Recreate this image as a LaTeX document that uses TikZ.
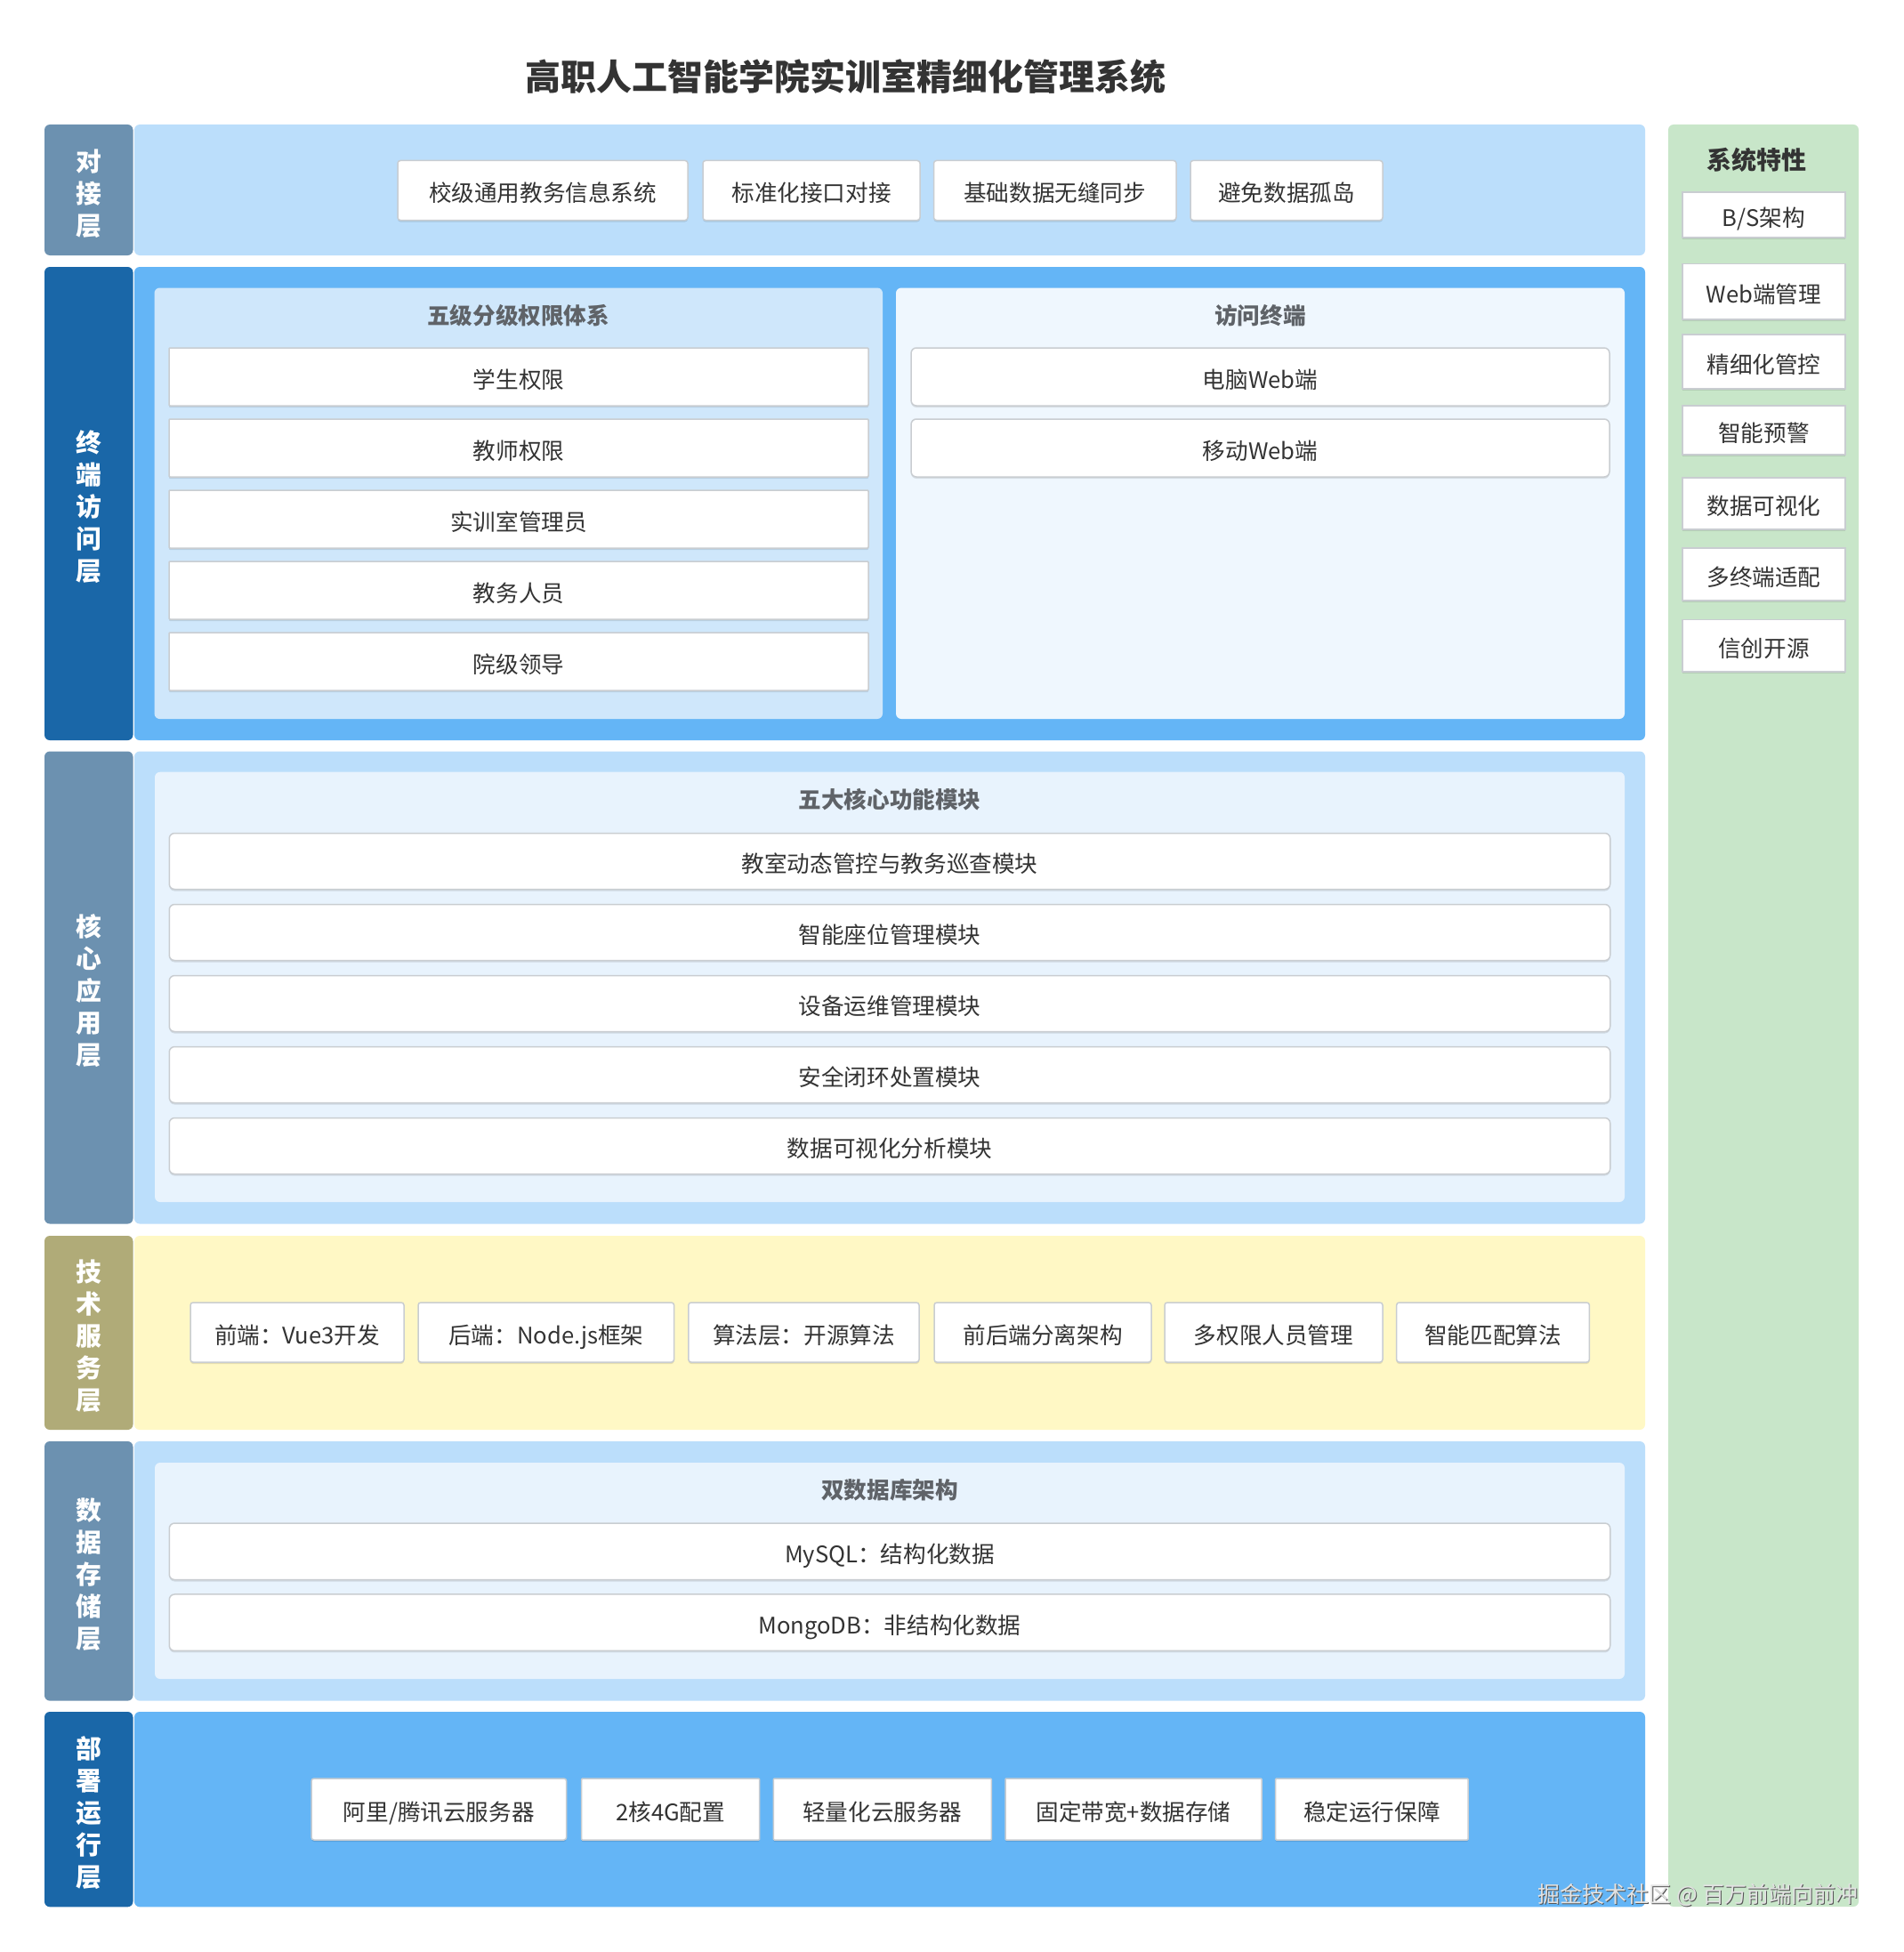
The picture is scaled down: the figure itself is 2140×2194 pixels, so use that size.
\documentclass[tikz,border=0pt]{standalone}
\usepackage{fontspec}
\setmainfont{Noto Sans CJK SC}
\usetikzlibrary{shadows}
\definecolor{steel}{HTML}{6C91B0}
\definecolor{dkblue}{HTML}{1A67A8}
\definecolor{olive}{HTML}{B0AB78}
\definecolor{ltband}{HTML}{BBDEFB}
\definecolor{midband}{HTML}{64B5F6}
\definecolor{yelband}{HTML}{FFF8C5}
\definecolor{greenp}{HTML}{C8E6C9}
\definecolor{lpanel}{HTML}{CFE7FB}
\definecolor{rpanel}{HTML}{EFF7FE}
\definecolor{cpanel}{HTML}{E8F3FD}
\definecolor{boxline}{HTML}{C9CDD1}
\definecolor{txt}{HTML}{333333}
\definecolor{ptxt}{HTML}{5F6368}
\definecolor{wmdark}{HTML}{555555}
\definecolor{wmlight}{HTML}{E2E2E2}
\tikzset{
  lab/.style={rectangle, rounded corners=6pt, minimum width=99.5pt, inner sep=0pt},
  labtext/.style={text=white, font=\bfseries\fontsize{28.8}{36}\selectfont, align=center, inner sep=0pt},
  band/.style={rectangle, rounded corners=6pt, minimum width=1698pt, inner sep=0pt},
  panel/.style={rectangle, rounded corners=6pt, inner sep=0pt},
  sz/.style 2 args={minimum width=#1pt, minimum height=#2pt},
  box/.style={rectangle, draw=boxline, line width=1.5pt, fill=white, text=txt,
    rounded corners=3pt, font=\fontsize{25.6}{30}\selectfont, inner sep=0pt,
    text height=25pt, text depth=0pt,
    drop shadow={shadow xshift=0pt, shadow yshift=-2pt, opacity=0.10, fill=black}},
  rbox/.style={box, rounded corners=6pt},
  ptitle/.style={text=ptxt, font=\bfseries\fontsize{25.6}{30}\selectfont},
}
\begin{document}
\begin{tikzpicture}[x=1pt,y=-1pt]
\useasboundingbox[fill=white] (0,0) rectangle (2140,2194);

% title
\node[text=txt, font=\bfseries\fontsize{40}{48}\selectfont] (title) at (950.5,86) {高职人工智能学院实训室精细化管理系统};

% right feature panel
\node[panel, fill=greenp, sz={214}{2003}] (feat) at (1982,1141.5) {};
\node[text=txt, font=\bfseries\fontsize{28}{34}\selectfont] (feattitle) at (1974,180) {系统特性};
\node[box, rounded corners=0pt, sz={183}{51}]   (f1) at (1982.5,241.5) {B/S架构};
\node[box, rounded corners=0pt, sz={183}{62.5}] (f2) at (1982.5,327.75) {Web端管理};
\node[box, rounded corners=0pt, sz={183}{61}]   (f3) at (1982.5,406.5) {精细化管控};
\node[box, rounded corners=0pt, sz={183}{55}]   (f4) at (1982.5,483.5) {智能预警};
\node[box, rounded corners=0pt, sz={183}{58}]   (f5) at (1982.5,566) {数据可视化};
\node[box, rounded corners=0pt, sz={183}{59}]   (f6) at (1982.5,645.5) {多终端适配};
\node[box, rounded corners=0pt, sz={183}{58.5}] (f7) at (1982.5,725.75) {信创开源};

% layer 1: 对接层
\node[lab, fill=steel, minimum height=147pt] (lab1) at (99.75,213.5) {};
\node[labtext] (lab1t) at (99.75,217.5) {对\\接\\层};
\node[band, fill=ltband, minimum height=147pt] (band1) at (1000,213.5) {};
\node[box, sz={326}{67}]   (t1) at (610,214) {校级通用教务信息系统};
\node[box, sz={244}{67}]   (t2) at (912,214) {标准化接口对接};
\node[box, sz={272.5}{67}] (t3) at (1185.75,214) {基础数据无缝同步};
\node[box, sz={216}{67}]   (t4) at (1446,214) {避免数据孤岛};

% layer 2: 终端访问层
\node[lab, fill=dkblue, minimum height=532pt] (lab2) at (99.75,566) {};
\node[labtext] (lab2t) at (99.75,570) {终\\端\\访\\问\\层};
\node[band, fill=midband, minimum height=532pt] (band2) at (1000,566) {};
\node[panel, fill=lpanel, sz={818.5}{484.5}] (perm) at (582.75,565.75) {};
\node[ptitle] (permtitle) at (582.75,355) {五级分级权限体系};
\node[box, rounded corners=1pt, sz={786}{65}] (p1) at (583,423.5) {学生权限};
\node[box, rounded corners=1pt, sz={786}{65}] (p2) at (583,503.5) {教师权限};
\node[box, rounded corners=1pt, sz={786}{65}] (p3) at (583,583.5) {实训室管理员};
\node[box, rounded corners=1pt, sz={786}{65}] (p4) at (583,663.5) {教务人员};
\node[box, rounded corners=1pt, sz={786}{65}] (p5) at (583,743.5) {院级领导};
\node[panel, fill=rpanel, sz={819}{484.5}] (term) at (1416.5,565.75) {};
\node[ptitle] (termtitle) at (1416.5,355) {访问终端};
\node[rbox, sz={785}{65}] (w1) at (1416.5,423.5) {电脑Web端};
\node[rbox, sz={785}{65}] (w2) at (1416.5,503.5) {移动Web端};

% layer 3: 核心应用层
\node[lab, fill=steel, minimum height=531pt] (lab3) at (99.75,1110) {};
\node[labtext] (lab3t) at (99.75,1114) {核\\心\\应\\用\\层};
\node[band, fill=ltband, minimum height=531pt] (band3) at (1000,1110) {};
\node[panel, fill=cpanel, sz={1652}{483.3}] (core) at (1000,1109.35) {};
\node[ptitle] (coretitle) at (1000,898.6) {五大核心功能模块};
\node[rbox, sz={1619.5}{63}] (c1) at (1000,968) {教室动态管控与教务巡查模块};
\node[rbox, sz={1619.5}{63}] (c2) at (1000,1048) {智能座位管理模块};
\node[rbox, sz={1619.5}{63}] (c3) at (1000,1128) {设备运维管理模块};
\node[rbox, sz={1619.5}{63}] (c4) at (1000,1208) {安全闭环处置模块};
\node[rbox, sz={1619.5}{63}] (c5) at (1000,1288) {数据可视化分析模块};

% layer 4: 技术服务层
\node[lab, fill=olive, minimum height=218pt] (lab4) at (99.75,1498) {};
\node[labtext] (lab4t) at (99.75,1502) {技\\术\\服\\务\\层};
\node[band, fill=yelband, minimum height=218pt] (band4) at (1000,1498) {};
\node[box, sz={240}{67}]   (s1) at (334,1497.5) {前端：Vue3开发};
\node[box, sz={287.6}{67}] (s2) at (613.8,1497.5) {后端：Node.js框架};
\node[box, sz={259.2}{67}] (s3) at (903.4,1497.5) {算法层：开源算法};
\node[box, sz={244}{67}]   (s4) at (1172,1497.5) {前后端分离架构};
\node[box, sz={245}{67}]   (s5) at (1431.5,1497.5) {多权限人员管理};
\node[box, sz={216.8}{67}] (s6) at (1678,1497.5) {智能匹配算法};

% layer 5: 数据存储层
\node[lab, fill=steel, minimum height=291.6pt] (lab5) at (99.75,1765.8) {};
\node[labtext] (lab5t) at (99.75,1769.8) {数\\据\\存\\储\\层};
\node[band, fill=ltband, minimum height=291.6pt] (band5) at (1000,1765.8) {};
\node[panel, fill=cpanel, sz={1652}{243}] (db) at (1000,1765.5) {};
\node[ptitle] (dbtitle) at (1000,1674.5) {双数据库架构};
\node[rbox, sz={1619.5}{63.5}] (d1) at (1000,1743.75) {MySQL：结构化数据};
\node[rbox, sz={1619.5}{63.5}] (d2) at (1000,1823.7) {MongoDB：非结构化数据};

% layer 6: 部署运行层
\node[lab, fill=dkblue, minimum height=219.3pt] (lab6) at (99.75,2033.65) {};
\node[labtext] (lab6t) at (99.75,2037.65) {部\\署\\运\\行\\层};
\node[band, fill=midband, minimum height=219.3pt] (band6) at (1000,2033.65) {};
\node[box, sz={286.7}{69}] (e1) at (493.35,2033.5) {阿里/腾讯云服务器};
\node[box, rounded corners=1pt, sz={200}{69}]   (e2) at (753.7,2033.5) {2核4G配置};
\node[box, rounded corners=1pt, sz={245}{69}]   (e3) at (991.9,2033.5) {轻量化云服务器};
\node[box, rounded corners=1pt, sz={288}{69}]   (e4) at (1274,2033.5) {固定带宽+数据存储};
\node[box, rounded corners=1pt, sz={216.3}{69}] (e5) at (1541.85,2033.5) {稳定运行保障};

% watermark
\node[anchor=east, text=wmdark, font=\fontsize{25}{30}\selectfont, inner sep=0pt] (wmshadow) at (2090,2131) {掘金技术社区 @ 百万前端向前冲};
\node[anchor=east, text=wmlight, font=\fontsize{25}{30}\selectfont, inner sep=0pt] (wm) at (2089,2130) {掘金技术社区 @ 百万前端向前冲};
\end{tikzpicture}
\end{document}
